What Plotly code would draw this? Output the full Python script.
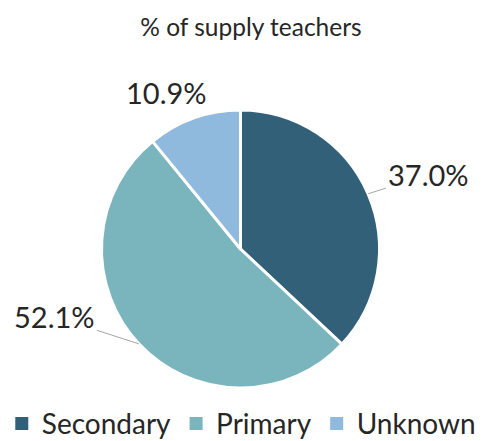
import math

import plotly.graph_objects as go

categories = ["Secondary", "Primary", "Unknown"]
shares = [37.0, 52.1, 10.9]
colors = ["#326079", "#7ab5be", "#8fb9dd"]

# label placement (pixel offsets of each value label from its slice edge)
label_offsets = [(60, -19), (-84, -27), (-27, -26)]
show_leader = [True, True, False]

FONT = "Lato, 'Open Sans', sans-serif"
# the page body adds an 8px margin, so the figure is drawn 8px smaller
W, H = 481, 433
CX, CY, R = 232.5, 241.0, 139.0

fig = go.Figure(
    go.Pie(
        labels=categories,
        values=shares,
        sort=False,
        direction="clockwise",
        rotation=0,
        marker=dict(colors=colors, line=dict(color="white", width=3)),
        textinfo="none",
        domain=dict(x=[(CX - R) / W, (CX + R) / W], y=[1 - (CY + R) / H, 1 - (CY - R) / H]),
        hoverinfo="label+value",
        showlegend=False,
    )
)

# legend entries with solid square swatches (pie swatches get the white border)
for name, c in zip(categories, colors):
    fig.add_trace(go.Scatter(x=[None], y=[None], mode="markers", name=name,
                             marker=dict(symbol="square", size=13, color=c)))

# value labels with leader lines, placed from the slice mid angles
total = sum(shares)
start = 0.0
for name, val, (dx, dy), lead in zip(categories, shares, label_offsets, show_leader):
    mid = math.radians((start + val / 2) / total * 360)
    start += val
    px_ = CX + R * math.sin(mid)
    py_ = CY - R * math.cos(mid)
    fig.add_annotation(
        x=px_ / W, y=1 - py_ / H, xref="paper", yref="paper",
        text=f"{val:.1f}%", showarrow=True, ax=dx, ay=dy,
        arrowhead=0, arrowwidth=1,
        arrowcolor="#a6a6a6" if lead else "rgba(0,0,0,0)",
        font=dict(size=29, color="#262626", family=FONT),
    )

fig.update_layout(
    width=W,
    height=H,
    title=dict(text="% of supply teachers", x=243 / W, xanchor="center",
               y=1 - 19 / H, yanchor="middle",
               font=dict(size=24.5, color="#262626", family=FONT)),
    legend=dict(orientation="h", x=0.485, xanchor="center", y=-0.018, yanchor="bottom",
                font=dict(size=28, color="#262626", family=FONT)),
    xaxis=dict(visible=False),
    yaxis=dict(visible=False),
    margin=dict(l=0, r=0, t=0, b=0, autoexpand=False),
    paper_bgcolor="white",
    plot_bgcolor="white",
    showlegend=True,
)

fig.write_html("out.html")
